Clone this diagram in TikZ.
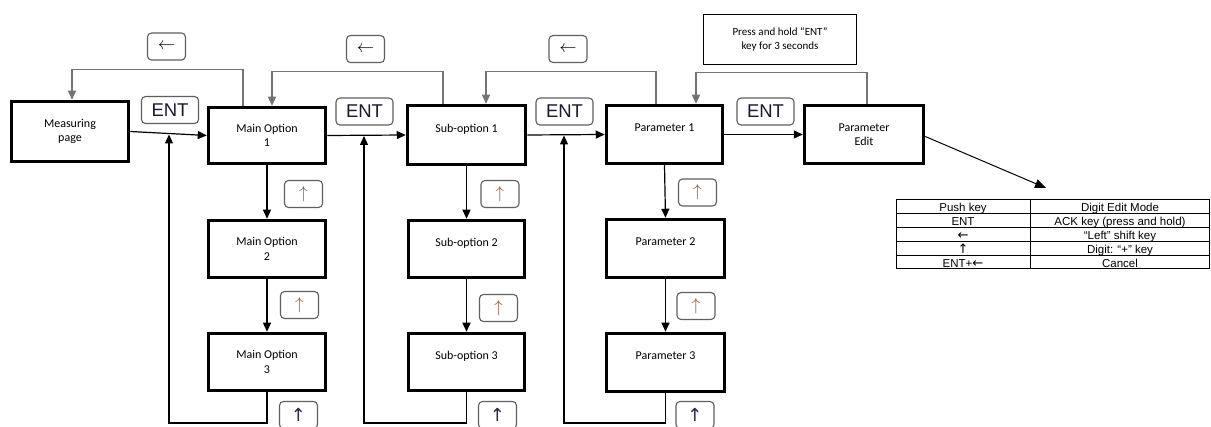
\documentclass[tikz,border=0pt]{standalone}
\usepackage{fontspec}
\setmainfont{Carlito}
\newfontfamily\arialf{Liberation Sans}
\newfontfamily\dejaf{DejaVu Sans}
\usetikzlibrary{arrows.meta}
\definecolor{fbgray}{RGB}{115,115,115}
\definecolor{keygray}{RGB}{95,95,95}
\definecolor{upbrown}{RGB}{150,80,40}
\definecolor{entink}{RGB}{25,25,50}
\definecolor{upink}{RGB}{35,40,70}
\tikzset{
  box/.style={draw=black,line width=3.5pt,minimum width=117pt,minimum height=57pt,inner sep=0pt,font=\fontsize{12}{14.5}\selectfont,align=center},
  oneline/.style={text height=8pt,text depth=13pt},
  keybox/.style={draw=keygray,line width=1.1pt,rounded corners=4pt,minimum width=38pt,minimum height=27pt,inner sep=0pt},
  entkey/.style={keybox,minimum width=57pt,font=\arialf\fontsize{18.5}{19}\selectfont,text=entink},
  lkey/.style={keybox,font=\fontsize{17}{17}\selectfont},
  ukey/.style={keybox,font=\fontsize{18}{18}\selectfont,text=upbrown},
  bkey/.style={keybox,font=\dejaf\fontsize{18}{18}\selectfont,text=upink},
  conn/.style={draw=black,line width=1.2pt},
  fb/.style={draw=fbgray,line width=1.3pt},
  tip/.style={-{Triangle[length=9pt,width=8pt]}},
  cell/.style={inner sep=0pt,font=\arialf\fontsize{11.5}{12}\selectfont,text height=8.5pt,text depth=2.5pt},
  arrf/.style={font=\dejaf\fontsize{13}{12}\selectfont}
}
\begin{document}
\begin{tikzpicture}[x=1pt,y=-1pt]
\clip (0,0) rectangle (1211,427);
\fill[white] (0,0) rectangle (1211,427);

% main boxes
\node[box,minimum height=60pt] (mp) at (70,131.5) {Measuring\\page};
\node[box,minimum height=56pt] (mo1) at (267,135.5) {Main Option\\1};
\node[box,oneline,minimum width=118pt,minimum height=59pt] (so1) at (466.5,135) {Sub-option 1};
\node[box,oneline,minimum width=116pt,minimum height=58pt] (p1) at (664.5,134.5) {Parameter 1};
\node[box,minimum width=119pt,minimum height=58pt] (pe) at (864,134.5) {Parameter\\Edit};

\node[box] (mo2) at (267,249) {Main Option\\2};
\node[box] (mo3) at (267,362) {Main Option\\3};
\node[box,oneline,minimum width=116pt] (so2) at (466.5,249) {Sub-option 2};
\node[box,oneline,minimum width=116pt] (so3) at (466.5,362) {Sub-option 3};
\node[box,oneline,minimum width=118pt,minimum height=58pt] (p2) at (665.5,248.5) {Parameter 2};
\node[box,oneline,minimum width=118pt,minimum height=58pt] (p3) at (665.5,362.5) {Parameter 3};

% hold note
\node[draw=black,line width=1.5pt,minimum width=153pt,minimum height=50pt,inner sep=0pt,align=center,font=\fontsize{11}{14}\selectfont] (hold) at (780,39.5) {Press and hold “ENT”\\key for 3 seconds};

% key labels
\node[entkey] (ke1) at (170,110) {ENT};
\node[entkey] (ke2) at (364.5,111.5) {ENT};
\node[entkey] (ke3) at (564.5,111.5) {ENT};
\node[entkey] (ke4) at (765.5,111.5) {ENT};

\node[lkey] (kl1) at (166.5,46.5) {$\leftarrow$};
\node[lkey] (kl2) at (365.5,49) {$\leftarrow$};
\node[lkey] (kl3) at (568,49) {$\leftarrow$};

\node[ukey] (ku1) at (303.5,194) {$\uparrow$};
\node[ukey] (ku2) at (299.5,305) {$\uparrow$};
\node[bkey] (ku3) at (298.5,415) {↑};
\node[ukey] (ku4) at (500,194) {$\uparrow$};
\node[ukey] (ku5) at (498.5,308) {$\uparrow$};
\node[bkey] (ku6) at (497.5,415) {↑};
\node[ukey] (ku7) at (697.5,192.5) {$\uparrow$};
\node[ukey] (ku8) at (696,306) {$\uparrow$};
\node[bkey] (ku9) at (695,415) {↑};

% forward connectors
\draw[conn,tip] (mp.east) -- (mo1.west);
\draw[conn,tip] (mo1.east) -- (so1.west);
\draw[conn,tip] (so1.east) -- (p1.west);
\draw[conn,tip] (p1.east) -- (pe.west);

\draw[conn,tip] (mo1.south) -- (mo2.north);
\draw[conn,tip] (mo2.south) -- (mo3.north);
\draw[conn,tip] (so1.south) -- (so2.north);
\draw[conn,tip] (so2.south) -- (so3.north);
\draw[conn,tip] (p1.south) -- (p2.north);
\draw[conn,tip] (p2.south) -- (p3.north);

% return loops from bottom
\coordinate (l1) at (169,423);
\coordinate (e1) at (169,134.5);
\coordinate (l2) at (364,423);
\coordinate (e2) at (364,136);
\coordinate (l3) at (564,423);
\coordinate (e3) at (564,135.5);
\draw[conn,tip] (mo3.south) |- (l1) -- (e1);
\draw[conn,tip] (so3.south) |- (l2) -- (e2);
\draw[conn,tip] (p3.south) |- (l3) -- (e3);

% back (left key) connectors
\draw[fb,tip] ([xshift=-24pt]mo1.north) -- ++(0,-36) -| ([xshift=2pt]mp.north);
\draw[fb,tip] ([xshift=-23.5pt]so1.north) -- ++(0,-32) -| ([xshift=5pt]mo1.north);
\draw[fb,tip] ([xshift=-8.5pt]p1.north) -- ++(0,-32) -| ([xshift=19.5pt]so1.north);
\draw[fb,tip] ([xshift=3pt]pe.north) -- ++(0,-31) -| ([xshift=31.5pt]p1.north);

% arrow to table
\coordinate (tt) at (1046,188);
\draw[conn,line width=1pt,-{Triangle[length=11pt,width=9pt]}] ([yshift=-2pt]pe.east) -- (tt);

% table
\draw[line width=1pt] (896,200) rectangle (1209.5,269);
\foreach \yy in {213.5,227.5,241,255} {\draw[line width=0.9pt] (896,\yy) -- (1209.5,\yy);}
\draw[line width=1pt] (1030,200) -- (1030,269);
\node[cell] (t11) at (963,209) {Push key};
\node[cell] (t12) at (1120,209) {Digit Edit Mode};
\node[cell] (t21) at (963,222.5) {ENT};
\node[cell] (t22) at (1120,222.5) {ACK key (press and hold)};
\node[cell,arrf] (t31) at (963,236.5) {←};
\node[cell] (t32) at (1120,236.5) {“Left” shift key};
\node[cell,arrf] (t41) at (963,250.5) {↑};
\node[cell] (t42) at (1120,250.5) {Digit: “+” key};
\node[cell] (t51) at (963,264.5) {ENT+\raisebox{-0.5pt}{\dejaf\fontsize{13}{12}\selectfont ←}};
\node[cell] (t52) at (1120,264.5) {Cancel};
\end{tikzpicture}
\end{document}
